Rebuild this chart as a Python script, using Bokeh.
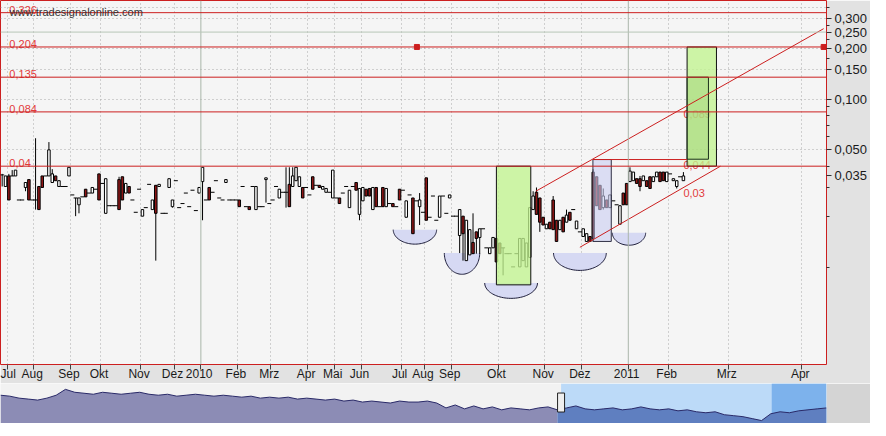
import numpy as np
from bokeh.plotting import figure
from bokeh.layouts import column
from bokeh.models import (FixedTicker, CustomJSTickFormatter, Span, Label,
                          BoxAnnotation, Range1d)
from bokeh.core.properties import value
from bokeh.embed import file_html
from bokeh.resources import INLINE

# ---------------- data ----------------
month_start_bar = [2, 10, 21, 30, 42, 52, 60, 71, 81, 92, 100, 108, 120, 127, 135,
                   149, 163, 174, 188, 200, 218, 240]
month_labels = ["Jul", "Aug", "Sep", "Okt", "Nov", "Dez", "2010", "Feb", "Mrz", "Apr",
                "Mai", "Jun", "Jul", "Aug", "Sep", "Okt", "Nov", "Dez", "2011", "Feb",
                "Mrz", "Apr"]

open_ = [.0355,.0303,.0350,.0350,.0350,.0252,.0252,.0299,.0333,.0252,
         .0252,.0303,.0350,.0350,.0350,.0320,.0350,.0303,.0303,.0303,
         .0350,.0270,.0259,.0236,.0263,.0292,.0277,.0277,.0292,.0360,
         .0316,.0210,.0233,.0233,.0233,.0333,.0346,.0277,.0303,.0252,
         .0213,.0292,.0202,.0227,.0312,.0221,.0308,.0303,.0210,.0210,
         .0299,.0230,.0328,.0227,.0240,.0277,.0230,.0288,.0218,.0277,
         .0324,.0252,.0299,.0280,.0328,.0259,.0252,.0320,.0252,.0252,
         .0252,.0252,.0303,.0230,.0230,.0303,.0221,.0230,.0230,.0333,
         .0240,.0252,.0303,.0259,.0280,.0280,.0312,.0303,.0328,.0303,
         .0299,.0299,.0270,.0346,.0308,.0308,.0292,.0280,.0280,.0259,
         .0259,.0259,.0277,.0303,.0227,.0303,.0320,.0207,.0249,.0292,
         .0295,.0221,.0299,.0230,.0299,.0230,.0240,.0240,.0230,.0292,
         .0288,.0199,.0270,.0259,.0249,.0230,.0213,.0341,.0199,.0266,
         .0191,.0199,.0266,.0210,.0259,.0202,.0202,.0155,.0202,.0110,
         .0119,.0141,.0163,.0151,.0170,.0131,.0121,.0131,.0149,.0140,
         .0131,.0121,.0121,.0101,.0121,.0101,.0110,.0101,.0115,.0221,
         .0280,.0259,.0199,.0170,.0186,.0252,.0191,.0168,.0199,.0186,
         .0213,.0221,.0170,.0163,.0153,.0143,.0153,.0369,.0346,.0308,
         .0227,.0252,.0227,.0249,.0236,.0181,.0277,.0316,.0324,.0328,
         .0337,.0337,.0328,.0328,.0346,.0324,.0346,.0369,.0369,.0324,
         .0360,.0328,.0303,.0346,.0328]
high_ = [.0360,.0350,.0360,.0379,.0379,.0252,.0252,.0320,.0333,.0252,
         .0586,.0303,.0350,.0350,.0556,.0384,.0350,.0328,.0303,.0303,
         .0394,.0270,.0259,.0259,.0263,.0292,.0277,.0299,.0292,.0360,
         .0316,.0337,.0233,.0233,.0233,.0346,.0346,.0316,.0303,.0252,
         .0213,.0292,.0221,.0227,.0312,.0252,.0308,.0312,.0210,.0210,
         .0337,.0252,.0328,.0227,.0240,.0277,.0230,.0288,.0218,.0299,
         .0394,.0252,.0299,.0280,.0328,.0259,.0252,.0333,.0252,.0252,
         .0252,.0252,.0303,.0230,.0230,.0303,.0303,.0230,.0230,.0341,
         .0240,.0252,.0303,.0292,.0280,.0394,.0394,.0394,.0394,.0346,
         .0299,.0299,.0270,.0346,.0308,.0308,.0303,.0295,.0280,.0379,
         .0259,.0259,.0277,.0303,.0288,.0303,.0320,.0295,.0299,.0292,
         .0295,.0299,.0299,.0230,.0299,.0295,.0240,.0240,.0230,.0292,
         .0288,.0249,.0270,.0259,.0249,.0277,.0213,.0341,.0199,.0266,
         .0191,.0266,.0266,.0210,.0270,.0202,.0202,.0221,.0202,.0191,
         .0168,.0210,.0163,.0170,.0170,.0131,.0131,.0151,.0149,.0140,
         .0131,.0121,.0121,.0101,.0121,.0149,.0149,.0140,.0227,.0284,
         .0299,.0259,.0199,.0181,.0186,.0266,.0191,.0191,.0199,.0221,
         .0213,.0221,.0189,.0163,.0170,.0159,.0153,.0384,.0346,.0308,
         .0295,.0252,.0270,.0249,.0236,.0233,.0277,.0316,.0394,.0369,
         .0337,.0350,.0350,.0328,.0346,.0346,.0369,.0369,.0369,.0369,
         .0360,.0337,.0328,.0346,.0369]
low_ = [.0303,.0303,.0252,.0350,.0350,.0252,.0252,.0284,.0252,.0252,
        .0221,.0221,.0299,.0350,.0350,.0320,.0328,.0303,.0303,.0303,
        .0350,.0270,.0202,.0210,.0263,.0263,.0277,.0277,.0292,.0252,
        .0316,.0210,.0233,.0233,.0233,.0221,.0252,.0277,.0277,.0252,
        .0213,.0292,.0202,.0227,.0312,.0221,.0110,.0303,.0210,.0210,
        .0299,.0227,.0328,.0227,.0240,.0277,.0230,.0288,.0218,.0277,
        .0191,.0252,.0252,.0280,.0328,.0259,.0252,.0320,.0252,.0252,
        .0252,.0230,.0303,.0230,.0221,.0303,.0221,.0230,.0230,.0243,
        .0240,.0252,.0303,.0259,.0280,.0227,.0230,.0303,.0328,.0303,
        .0259,.0299,.0270,.0292,.0308,.0299,.0292,.0280,.0280,.0259,
        .0259,.0240,.0277,.0303,.0227,.0303,.0288,.0191,.0249,.0266,
        .0266,.0221,.0230,.0230,.0230,.0230,.0240,.0230,.0230,.0252,
        .0288,.0199,.0270,.0159,.0249,.0179,.0213,.0191,.0199,.0266,
        .0191,.0199,.0266,.0210,.0259,.0202,.0202,.0122,.0110,.0110,
        .0119,.0121,.0121,.0121,.0170,.0131,.0121,.0131,.0108,.0121,
        .0090,.0121,.0121,.0101,.0121,.0101,.0110,.0101,.0115,.0221,
        .0207,.0163,.0179,.0170,.0170,.0168,.0143,.0168,.0163,.0186,
        .0191,.0221,.0170,.0163,.0153,.0143,.0143,.0143,.0233,.0221,
        .0221,.0227,.0227,.0249,.0236,.0181,.0236,.0236,.0324,.0328,
        .0316,.0284,.0328,.0303,.0295,.0324,.0346,.0324,.0328,.0324,
        .0360,.0328,.0295,.0346,.0328]
close_ = [.0355,.0350,.0252,.0350,.0379,.0252,.0252,.0320,.0252,.0252,
          .0252,.0221,.0299,.0350,.0500,.0360,.0328,.0328,.0303,.0303,
          .0394,.0270,.0259,.0259,.0263,.0263,.0277,.0299,.0292,.0252,
          .0316,.0337,.0233,.0233,.0233,.0221,.0252,.0316,.0277,.0252,
          .0213,.0292,.0221,.0227,.0312,.0252,.0210,.0312,.0210,.0210,
          .0337,.0252,.0328,.0227,.0240,.0277,.0230,.0288,.0218,.0299,
          .0394,.0252,.0252,.0280,.0328,.0259,.0252,.0333,.0252,.0252,
          .0252,.0230,.0303,.0230,.0221,.0303,.0303,.0230,.0230,.0341,
          .0240,.0252,.0303,.0292,.0280,.0280,.0230,.0350,.0394,.0346,
          .0259,.0299,.0270,.0292,.0308,.0299,.0303,.0295,.0280,.0379,
          .0259,.0240,.0277,.0303,.0288,.0303,.0288,.0295,.0299,.0266,
          .0266,.0299,.0230,.0230,.0230,.0295,.0240,.0230,.0230,.0252,
          .0288,.0249,.0270,.0159,.0249,.0252,.0213,.0191,.0199,.0266,
          .0191,.0266,.0266,.0210,.0270,.0202,.0202,.0221,.0159,.0191,
          .0168,.0121,.0149,.0170,.0170,.0131,.0131,.0151,.0108,.0121,
          .0131,.0121,.0121,.0101,.0121,.0149,.0149,.0140,.0227,.0266,
          .0207,.0186,.0179,.0181,.0170,.0168,.0143,.0191,.0163,.0205,
          .0191,.0221,.0189,.0163,.0170,.0159,.0143,.0149,.0233,.0221,
          .0266,.0227,.0270,.0249,.0236,.0233,.0236,.0236,.0374,.0369,
          .0316,.0303,.0350,.0303,.0295,.0346,.0369,.0324,.0328,.0369,
          .0360,.0337,.0328,.0346,.0350]
last_price = 0.035

# price axis ticks
axis_ticks = [0.05, 0.1, 0.15, 0.2, 0.25, 0.3]
axis_minor = [0.01, 0.02, 0.03, 0.04, 0.06, 0.07, 0.08, 0.09, 0.175, 0.225, 0.275, 0.35]
grid_levels = [0.05, 0.1, 0.15, 0.2, 0.3, 0.35]

# horizontal price levels (red) and target labels
levels = [0.326, 0.204, 0.135, 0.084, 0.04]
target_levels = [0.089, 0.044, 0.03]
grey_level = 0.25

# boxes: (left bar, right bar, low price, high price)
green_left = [148.0, 205.1]
green_right = [158.3, 213.9]
green_low = [0.0079, 0.040]
green_high = [0.040, 0.204]
inner_left, inner_right, inner_low, inner_high = [205.1], [211.5], [0.044], [0.135]
lav_left, lav_right, lav_low, lav_high = [176.9], [182.4], [0.0143], [0.0438]

# trend channel and segment: (bar0, price0, bar1, price1)
chan_x0 = [159.8, 173.0, 176.9]
chan_y0 = [0.0284, 0.0132, 0.0438]
chan_x1 = [246.0, 215.1, 205.1]
chan_y1 = [0.262, 0.040, 0.0438]

# bowl shapes: centre bar, rim price, half width (bars), depth (decades)
bowl_bar = [123.6, 137.7, 152.4, 173.0, 187.7]
bowl_rim = [0.0168, 0.0122, 0.0081, 0.0122, 0.0161]
bowl_half = [6.5, 5.3, 7.9, 7.9, 5.0]
bowl_depth = [0.086, 0.126, 0.091, 0.103, 0.074]

handle_bars = [124.2, 246.0]

# navigator history
nav_val = [.0677,.0654,.0607,.0584,.0560,.0607,.0677,.0817,.0747,.0724,
           .0700,.0747,.0724,.0700,.0724,.0747,.0700,.0677,.0700,.0654,
           .0677,.0700,.0677,.0654,.0677,.0654,.0630,.0654,.0607,.0630,
           .0607,.0630,.0584,.0607,.0584,.0560,.0584,.0537,.0560,.0513,
           .0537,.0513,.0490,.0537,.0513,.0513,.0537,.0490,.0373,.0443,
           .0350,.0420,.0350,.0397,.0327,.0373,.0350,.0327,.0373,.0397,
           .0327,.0373,.0420,.0350,.0327,.0350,.0373,.0327,.0350,.0397,
           .0350,.0327,.0350,.0303,.0327,.0280,.0257,.0280,.0210,.0187,
           .0163,.0117,.0070,.0233,.0280,.0257,.0303,.0327,.0350,.0373]
nav_sel_start = 60.4
nav_sel_bright = 83.1

# ---------------- styling constants ----------------
FONT = "Liberation Sans"
RED = "#cc1f1f"
RED_TXT = "#e23a3a"
FW, FH = 826, 364

o = np.array(open_); h = np.array(high_); l = np.array(low_); c = np.array(close_)
x = np.arange(len(o))
up = c > o
dn = c < o
fl = c == o

p = figure(frame_width=FW, frame_height=FH,
           x_range=Range1d(-0.5, 246.85), y_range=Range1d(0.00266, 0.385),
           y_axis_type="log", y_axis_location="right",
           output_backend="svg", toolbar_location=None,
           min_border_left=0, min_border_top=0, min_border_right=44, min_border_bottom=16,
           background_fill_color="#f5f5f5", border_fill_color="#e2e2e2",
           outline_line_color=RED, outline_line_width=1)

month_ticks = [b - 0.5 for b in month_start_bar]
p.xaxis.ticker = FixedTicker(ticks=month_ticks)
p.xaxis.formatter = CustomJSTickFormatter(args=dict(t=month_ticks, lab=month_labels),
                                          code="const i = t.indexOf(tick); return i < 0 ? '' : ' ' + lab[i];")
p.xaxis.axis_line_color = None
p.xaxis.major_tick_in = 0
p.xaxis.major_tick_out = 5
p.xaxis.minor_tick_out = 0
p.xaxis.major_tick_line_color = "#404040"
p.xaxis.major_label_text_font = FONT
p.xaxis.major_label_text_font_size = "12px"
p.xaxis.major_label_text_color = "#1a1a1a"
p.xaxis.major_label_text_align = "left"
p.xaxis.major_label_standoff = -3

p.yaxis.ticker = FixedTicker(ticks=axis_ticks + [last_price], minor_ticks=axis_minor)
p.yaxis.formatter = CustomJSTickFormatter(code="return tick.toFixed(3).replace('.', ',');")
p.yaxis.axis_line_color = None
p.yaxis.major_tick_in = 0
p.yaxis.major_tick_out = 5
p.yaxis.minor_tick_in = 0
p.yaxis.minor_tick_out = 3
p.yaxis.major_tick_line_color = "#303030"
p.yaxis.minor_tick_line_color = "#303030"
p.yaxis.major_label_text_font = FONT
p.yaxis.major_label_text_font_size = "13px"
p.yaxis.major_label_text_color = "#1a1a1a"
p.yaxis.major_label_standoff = 3

p.xgrid.ticker = FixedTicker(ticks=[t for t, s in zip(month_ticks, month_labels) if not s.isdigit()])
p.ygrid.ticker = FixedTicker(ticks=grid_levels)
for g in (p.xgrid, p.ygrid):
    g.grid_line_color = "#a9a9a9"
    g.grid_line_dash = "1 3"
    g.grid_line_width = 1

for t, s in zip(month_ticks, month_labels):
    if s.isdigit():
        p.add_layout(Span(location=t, dimension="height", line_color="#aab6aa", line_width=1))
p.add_layout(Span(location=grey_level, dimension="width", line_color="#b7c7b7", line_width=1))

# bowls
th = np.linspace(0, np.pi, 48)
bx = [cx + hw * np.cos(th) for cx, hw in zip(bowl_bar, bowl_half)]
by = [rim * 10 ** (-d * np.sin(th)) for rim, d in zip(bowl_rim, bowl_depth)]
p.patches(bx, by, fill_color="#d6d9f3", line_alpha=0)
p.multi_line(bx, by, line_color="#1e1e3a", line_width=1)

# candles
p.segment(x, h, x, l, line_color="black", line_width=1)
p.vbar(x=x[up], width=0.75, top=c[up], bottom=o[up], fill_color="white", line_color="black", line_width=1)
p.vbar(x=x[dn], width=0.75, top=o[dn], bottom=c[dn], fill_color="#8e1616", line_color="black", line_width=1)
p.segment(x[fl] - 0.6, o[fl], x[fl] + 0.6, o[fl], line_color="black", line_width=1)

# target labels drawn beneath the boxes
tl = [f"{v:g}".replace(".", ",") for v in target_levels]
p.text(x=[204.0] * 3, y=target_levels, text=tl, text_font=value(FONT), text_font_size="11px",
       text_color=RED_TXT, text_baseline="top", y_offset=2)

# boxes
p.quad(left=green_left, right=green_right, bottom=green_low, top=green_high,
       fill_color="#c2f38f", fill_alpha=0.78, line_color="#101010", line_width=1)
p.quad(left=inner_left, right=inner_right, bottom=inner_low, top=inner_high,
       fill_color="#8fc465", fill_alpha=0.35, line_color="#1c301c", line_width=1)
p.quad(left=lav_left, right=lav_right, bottom=lav_low, top=lav_high,
       fill_color="#c9cdf1", fill_alpha=0.6, line_color="#303044", line_width=1)

# level lines and labels
for lv in levels:
    p.add_layout(Span(location=lv, dimension="width", line_color=RED, line_width=1))
ll = [f"{v:g}".replace(".", ",") for v in levels]
p.text(x=[2.15] * len(levels), y=levels, text=ll, text_font=value(FONT), text_font_size="11px",
       text_color=RED_TXT, text_baseline="alphabetic", y_offset=-3)

p.segment(chan_x0, chan_y0, chan_x1, chan_y1, line_color=RED, line_width=1)
p.scatter(x=handle_bars, y=[levels[1]] * 2, marker="square", size=5, fill_color=RED, line_color=RED)

p.add_layout(Label(x=9, y=FH - 11, x_units="screen", y_units="screen",
                   text="www.tradesignalonline.com", text_font=FONT, text_font_size="11px",
                   text_color="#333333", text_baseline="alphabetic"))

# ---------------- navigator ----------------
nx = np.arange(len(nav_val))
nv = np.array(nav_val)
nav = figure(frame_width=FW, frame_height=40, x_range=Range1d(0, len(nav_val) - 1),
             y_range=Range1d(0, 0.0957), output_backend="svg", toolbar_location=None,
             min_border_left=0, min_border_top=0, min_border_bottom=0, min_border_right=44,
             background_fill_color="#f2f2f2", border_fill_color="#d4d4d4", outline_line_color=None)
nav.axis.visible = False
nav.grid.visible = False
nav.add_layout(BoxAnnotation(left=nav_sel_start, right=len(nav_val) - 1, fill_color="#bcdaf8",
                             fill_alpha=1, line_alpha=0, level="underlay"))
nav.add_layout(BoxAnnotation(left=nav_sel_bright, right=len(nav_val) - 1, fill_color="#7db2ec",
                             fill_alpha=1, line_alpha=0, level="underlay"))
s = int(nav_sel_start)
nav.varea(x=nx[:s + 1], y1=0, y2=nv[:s + 1], fill_color="#8c8cb5")
nav.varea(x=nx[s:], y1=0, y2=nv[s:], fill_color="#5f7fc0")
nav.line(nx, nv, line_color="#2a2a68", line_width=1)
nav.rect(x=[nav_sel_start], y=[0.0502], width=7, height=19, width_units="screen",
         height_units="screen", fill_color="#eeeeee", line_color="#222222")

layout = column(p, nav, spacing=0)
open("out.html", "w").write(file_html(layout, INLINE, "chart"))
